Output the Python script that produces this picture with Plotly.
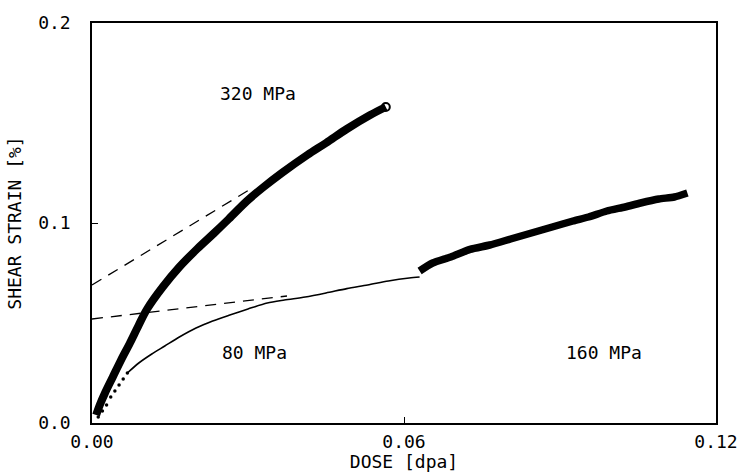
import plotly.graph_objects as go

# 320 MPa curve
x320 = [0.0008, 0.0015, 0.0025, 0.004, 0.0055, 0.0073, 0.009, 0.0106, 0.0136, 0.0168, 0.0202, 0.0235, 0.0263, 0.0298, 0.0330, 0.0365, 0.0414, 0.0450, 0.0490, 0.0535, 0.0565]
y320 = [0.004, 0.009, 0.015, 0.023, 0.031, 0.040, 0.049, 0.057, 0.068, 0.078, 0.087, 0.095, 0.102, 0.111, 0.118, 0.125, 0.134, 0.140, 0.147, 0.154, 0.158]

# 80 MPa dotted start
x80_dots = [0.0012, 0.0020, 0.0028, 0.0036, 0.0044, 0.0052, 0.0060, 0.0068]
y80_dots = [0.003, 0.006, 0.009, 0.013, 0.016, 0.019, 0.022, 0.025]

# 80 MPa line
x80 = [0.0068, 0.0090, 0.0115, 0.0140, 0.0168, 0.0200, 0.0232, 0.0265, 0.0300, 0.0337, 0.0370, 0.0410, 0.0450, 0.0490, 0.0530, 0.0570, 0.0610, 0.0630]
y80 = [0.025, 0.030, 0.0345, 0.0385, 0.043, 0.0475, 0.051, 0.054, 0.057, 0.060, 0.0615, 0.063, 0.065, 0.0672, 0.069, 0.071, 0.0725, 0.073]

# 160 MPa band
x160 = [0.0630, 0.0655, 0.0690, 0.0727, 0.0765, 0.0805, 0.0845, 0.0885, 0.0925, 0.0955, 0.0990, 0.1025, 0.1055, 0.1090, 0.1120, 0.1145]
y160 = [0.076, 0.080, 0.083, 0.0868, 0.089, 0.092, 0.095, 0.098, 0.101, 0.103, 0.106, 0.108, 0.110, 0.112, 0.113, 0.115]

# extrapolation (dashed) lines
xd_a = [0.0, 0.0305]
yd_a = [0.069, 0.117]
xd_b = [0.0, 0.0375]
yd_b = [0.052, 0.0635]

labels = ["320 MPa", "80 MPa", "160 MPa"]
label_x = [0.0320, 0.0312, 0.0985]
label_y = [0.165, 0.0355, 0.0355]

FONT = "DejaVu Sans Mono"
FS = 18

fig = go.Figure()
fig.add_trace(go.Scatter(x=xd_a, y=yd_a, mode="lines",
                         line=dict(color="black", width=1.3, dash="11px,8px")))
fig.add_trace(go.Scatter(x=xd_b, y=yd_b, mode="lines",
                         line=dict(color="black", width=1.3, dash="11px,8px")))
fig.add_trace(go.Scatter(x=x80_dots, y=y80_dots, mode="markers",
                         marker=dict(color="black", size=3.5)))
fig.add_trace(go.Scatter(x=x80, y=y80, mode="lines",
                         line=dict(color="black", width=1.6, shape="spline", smoothing=0.8)))
fig.add_trace(go.Scatter(x=x160, y=y160, mode="lines",
                         line=dict(color="black", width=7.5, shape="spline", smoothing=0.6)))
fig.add_trace(go.Scatter(x=x320, y=y320, mode="lines",
                         line=dict(color="black", width=8, shape="spline", smoothing=1.0)))
fig.add_trace(go.Scatter(x=[x320[-1]], y=[y320[-1]], mode="markers",
                         marker=dict(symbol="circle-open", color="black", size=8, line=dict(width=2))))

for t, lx, ly in zip(labels, label_x, label_y):
    fig.add_annotation(x=lx, y=ly, text=t, showarrow=False,
                       font=dict(family=FONT, size=FS, color="black"))

fig.update_layout(
    width=739, height=472,
    margin=dict(l=92, r=23, t=23, b=49),
    paper_bgcolor="white", plot_bgcolor="white",
    showlegend=False,
    font=dict(family=FONT, size=FS, color="black"),
)
fig.update_xaxes(range=[0, 0.12], tickvals=[0, 0.06, 0.12], tickformat=".2f",
                 ticks="inside", ticklen=6, tickcolor="black", tickwidth=1.3,
                 showline=True, linecolor="black", linewidth=1.5, mirror=True,
                 showgrid=False, zeroline=False, automargin=False,
                 title=dict(text="DOSE [dpa]", standoff=8, font=dict(family=FONT, size=FS)),
                 ticklabelstandoff=2)
fig.update_yaxes(range=[0, 0.2], tickvals=[0, 0.1, 0.2], tickformat=".1f",
                 ticks="inside", ticklen=6, tickcolor="black", tickwidth=1.3,
                 showline=True, linecolor="black", linewidth=1.5, mirror=True,
                 showgrid=False, zeroline=False, automargin=False,
                 title=dict(text="SHEAR STRAIN [%]", standoff=12, font=dict(family=FONT, size=FS)),
                 ticklabelstandoff=16)

fig.write_html("out.html", config={"displayModeBar": False},
               post_script="document.body.style.margin='0px';")
